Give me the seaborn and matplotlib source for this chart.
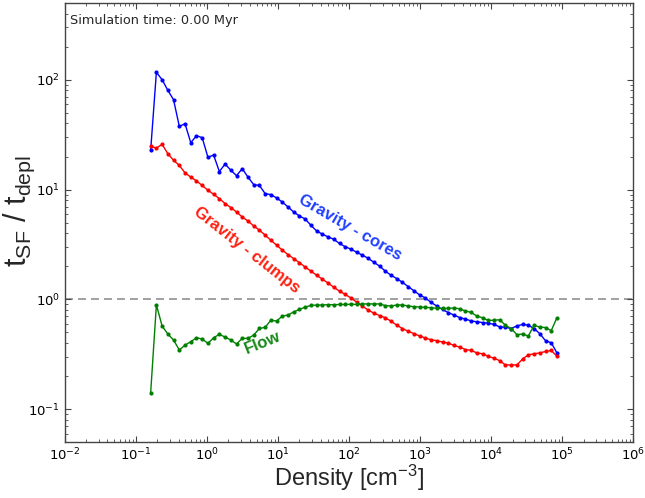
import numpy as np
import pandas as pd
import matplotlib
matplotlib.use("Agg")
import matplotlib.pyplot as plt
import seaborn as sns

density = [0.162, 0.195, 0.235, 0.283, 0.340, 0.410, 0.493, 0.594, 0.715, 0.860,
           1.035, 1.246, 1.500, 1.805, 2.173, 2.616, 3.148, 3.789, 4.560, 5.489,
           6.607, 7.952, 9.572, 11.52, 13.87, 16.69, 20.09, 24.18, 29.11, 35.04,
           42.17, 50.76, 61.09, 73.54, 88.51, 106.5, 128.2, 154.3, 185.8, 223.6,
           269.2, 324.0, 390.0, 469.4, 564.9, 680.0, 818.5, 985.1, 1186, 1427,
           1718, 2068, 2489, 2996, 3606, 4340, 5224, 6288, 7568, 9110,
           10965, 13197, 15885, 19120, 23014, 27701, 33343, 40132, 48306, 58144,
           69984, 84236]

gravity_cores = [22.8, 117, 100, 80, 65.8, 37.6, 39.8, 26.7, 31, 29.7,
                 19.7, 20.6, 14.6, 17.1, 15.0, 13.4, 15.5, 13.0, 11.1, 10.9,
                 9.2, 9.0, 8.4, 7.7, 6.95, 6.25, 5.75, 5.4, 4.73, 4.2,
                 3.93, 3.71, 3.53, 3.23, 3.02, 2.87, 2.69, 2.53, 2.37, 2.18,
                 2.01, 1.81, 1.66, 1.55, 1.43, 1.31, 1.20, 1.10, 1.03, 0.94,
                 0.87, 0.81, 0.76, 0.72, 0.684, 0.662, 0.638, 0.625, 0.616, 0.608,
                 0.592, 0.562, 0.559, 0.543, 0.574, 0.592, 0.583, 0.543, 0.488, 0.421,
                 0.403, 0.326]

gravity_clumps = [24.8, 23.9, 25.8, 21.2, 18.5, 16.6, 14.2, 13.0, 12.0, 10.9,
                  9.86, 9.06, 8.28, 7.46, 6.86, 6.25, 5.63, 5.18, 4.67, 4.27,
                  3.85, 3.46, 3.12, 2.81, 2.56, 2.35, 2.16, 1.97, 1.81, 1.66,
                  1.53, 1.41, 1.29, 1.19, 1.11, 1.03, 0.944, 0.869, 0.80, 0.75,
                  0.713, 0.681, 0.634, 0.583, 0.543, 0.513, 0.488, 0.465, 0.445, 0.430,
                  0.421, 0.409, 0.401, 0.381, 0.368, 0.350, 0.343, 0.326, 0.320, 0.304,
                  0.291, 0.277, 0.253, 0.253, 0.253, 0.287, 0.313, 0.320, 0.326, 0.336,
                  0.343, 0.304]

flow = [0.1415, 0.893, 0.571, 0.484, 0.427, 0.346, 0.384, 0.412, 0.448, 0.436,
        0.398, 0.448, 0.481, 0.454, 0.427, 0.393, 0.442, 0.442, 0.473, 0.545,
        0.556, 0.648, 0.635, 0.705, 0.720, 0.771, 0.811, 0.851, 0.882, 0.888,
        0.890, 0.895, 0.895, 0.900, 0.900, 0.905, 0.900, 0.910, 0.910, 0.910,
        0.910, 0.879, 0.871, 0.890, 0.890, 0.871, 0.859, 0.853, 0.848, 0.840,
        0.830, 0.830, 0.830, 0.836, 0.822, 0.785, 0.762, 0.705, 0.681, 0.643,
        0.647, 0.653, 0.582, 0.543, 0.478, 0.484, 0.465, 0.582, 0.559, 0.555,
        0.520, 0.681]

series_names = ["Gravity - cores", "Gravity - clumps", "Flow"]
series_colors = {"Gravity - cores": "#0000ff", "Gravity - clumps": "#ff0000", "Flow": "#008000"}

df = pd.DataFrame({
    "density": density * 3,
    "ratio": gravity_cores + gravity_clumps + flow,
    "series": [series_names[0]] * len(density) + [series_names[1]] * len(density) + [series_names[2]] * len(density),
})

sns.set_style("ticks")
plt.rcParams["font.family"] = ["DejaVu Sans"]
plt.rcParams["mathtext.fontset"] = "dejavusans"
plt.rcParams["mathtext.rm"] = "Liberation Sans"
plt.rcParams["mathtext.it"] = "Liberation Sans:italic"
plt.rcParams["mathtext.bf"] = "Liberation Sans:bold"

W, H = 645, 498
fig = plt.figure(figsize=(W / 100, H / 100), dpi=100)
ax = fig.add_axes([0.1003, 0.1118, 0.8816, 0.8822])

for name in series_names:
    sub = df[df["series"] == name]
    sns.lineplot(data=sub, x="density", y="ratio", ax=ax, color=series_colors[name],
                 marker="o", markersize=3, markeredgewidth=0, linewidth=1.0,
                 legend=False, sort=False, estimator=None)

ax.axhline(1.0, color="#999999", lw=1.3, dashes=(4.4, 2.8), zorder=0)

ax.set_xscale("log")
ax.set_yscale("log")
ax.set_xlim(1e-2, 1e6)
ax.set_ylim(0.05, 500)

for s in ax.spines.values():
    s.set_visible(True)
    s.set_color("#444444")
    s.set_linewidth(1.0)

ax.tick_params(which="both", direction="in", top=True, right=True, colors="#444444",
               labelcolor="black", labelsize=9.5)
ax.tick_params(which="major", length=4, width=0.8, pad=3.5)
ax.tick_params(which="minor", length=2, width=0.6)

ax.set_xlabel(r"Density [$\mathregular{cm^{-3}}$]", fontsize=17, family="Liberation Sans",
              math_fontfamily="custom")
ax.xaxis.set_label_coords(0.5, -0.047)
ax.set_ylabel(r"$\mathregular{t_{SF}\ /\ t_{depl}}$", fontsize=22, family="Liberation Sans",
              math_fontfamily="custom")
ax.yaxis.set_label_coords(-0.048, 0.527)

ax.text(0.01, 0.975, "Simulation time: 0.00 Myr", transform=ax.transAxes,
        fontsize=9.3, ha="left", va="top")

def fig_xy(px, py):
    return px / W, 1 - py / H

for label, (px, py), rot, col in [
    ("Gravity - cores", (350, 228), -30, "#2040ff"),
    ("Gravity - clumps", (247, 250), -38, "#ff2010"),
    ("Flow", (263, 343), 22, "#188818"),
]:
    fx, fy = fig_xy(px, py)
    fig.text(fx, fy, label, fontsize=12, fontweight="bold", family="Liberation Sans",
             color=col, rotation=rot, ha="center", va="center", rotation_mode="anchor")

fig.savefig("out.png", dpi=100)
